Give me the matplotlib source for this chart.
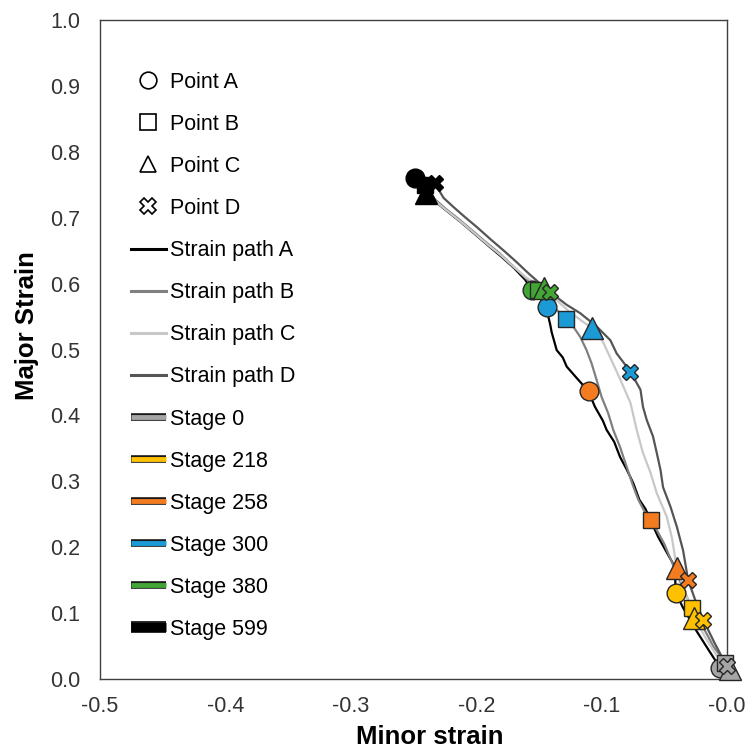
import numpy as np
import matplotlib
matplotlib.use('Agg')
import matplotlib.pyplot as plt
import matplotlib.patheffects as pe
from matplotlib.lines import Line2D
from matplotlib.ticker import FormatStrFormatter

plt.rcParams['font.family'] = ['Liberation Sans', 'DejaVu Sans']
plt.rcParams['axes.unicode_minus'] = False

# strain paths (minor, major)
path_a_x = [-0.249, -0.240, -0.231, -0.222, -0.212, -0.201, -0.190, -0.180, -0.170, -0.161,
            -0.1555, -0.150, -0.1435, -0.1425, -0.1410, -0.1398, -0.1358, -0.1310, -0.1278,
            -0.1186, -0.1106, -0.1053, -0.0990, -0.0960, -0.0900, -0.0853, -0.0800, -0.0747,
            -0.0699, -0.0650, -0.061, -0.055, -0.048, -0.0415, -0.0410, -0.035, -0.025, -0.015,
            -0.0055]
path_a_y = [0.760, 0.738, 0.722, 0.708, 0.693, 0.675, 0.657, 0.641, 0.624, 0.606,
            0.590, 0.580, 0.565, 0.550, 0.538, 0.526, 0.499, 0.488, 0.474,
            0.454, 0.437, 0.413, 0.392, 0.378, 0.360, 0.337, 0.318, 0.297,
            0.272, 0.258, 0.241, 0.216, 0.192, 0.170, 0.131, 0.108, 0.075, 0.045,
            0.017]

path_b_x = [-0.241, -0.233, -0.224, -0.214, -0.204, -0.193, -0.182, -0.172, -0.162, -0.151,
            -0.145, -0.137, -0.128, -0.122, -0.117, -0.112, -0.108, -0.104, -0.100, -0.0947,
            -0.0907, -0.0853, -0.080, -0.0747, -0.0707, -0.066, -0.061, -0.056, -0.050, -0.045,
            -0.040, -0.035, -0.028, -0.020, -0.011, -0.0015]
path_b_y = [0.750, 0.728, 0.713, 0.698, 0.682, 0.664, 0.647, 0.629, 0.611, 0.590,
            0.575, 0.562, 0.546, 0.533, 0.519, 0.499, 0.479, 0.454, 0.428, 0.403,
            0.378, 0.352, 0.322, 0.292, 0.272, 0.255, 0.241, 0.226, 0.205, 0.182,
            0.160, 0.137, 0.108, 0.082, 0.050, 0.025]

path_c_x = [-0.240, -0.232, -0.223, -0.213, -0.203, -0.192, -0.181, -0.171, -0.160, -0.146,
            -0.136, -0.126, -0.117, -0.108, -0.103, -0.099, -0.091, -0.085, -0.077, -0.072,
            -0.067, -0.061, -0.056, -0.048, -0.044, -0.040, -0.033, -0.026, -0.017, -0.008,
            0.002]
path_c_y = [0.737, 0.724, 0.710, 0.695, 0.679, 0.661, 0.644, 0.627, 0.609, 0.593,
            0.575, 0.558, 0.545, 0.533, 0.525, 0.512, 0.479, 0.454, 0.419, 0.378,
            0.343, 0.313, 0.282, 0.246, 0.215, 0.168, 0.130, 0.093, 0.062, 0.035,
            0.015]

path_d_x = [-0.233, -0.226, -0.218, -0.209, -0.199, -0.189, -0.178, -0.168, -0.158, -0.149,
            -0.141, -0.128, -0.117, -0.104, -0.093, -0.088, -0.080, -0.077, -0.069, -0.067,
            -0.064, -0.059, -0.056, -0.053, -0.051, -0.045, -0.040, -0.035, -0.031, -0.025,
            -0.019, -0.010, 0.000]
path_d_y = [0.752, 0.730, 0.716, 0.701, 0.685, 0.668, 0.650, 0.633, 0.615, 0.600,
            0.587, 0.568, 0.555, 0.535, 0.514, 0.494, 0.474, 0.466, 0.439, 0.413,
            0.393, 0.368, 0.343, 0.317, 0.291, 0.261, 0.231, 0.195, 0.150, 0.118,
            0.090, 0.055, 0.019]

# points at each stage
stages = ['Stage 0', 'Stage 218', 'Stage 258', 'Stage 300', 'Stage 380', 'Stage 599']
stage_colors = ['#a5a5a5', '#ffc000', '#f47c20', '#1b9ad6', '#43a535', '#000000']
point_a_x = [-0.0055, -0.041, -0.110, -0.1435, -0.1555, -0.249]
point_a_y = [0.017, 0.131, 0.437, 0.565, 0.590, 0.760]
point_b_x = [-0.0015, -0.028, -0.061, -0.128, -0.151, -0.241]
point_b_y = [0.025, 0.108, 0.241, 0.546, 0.590, 0.750]
point_c_x = [0.002, -0.026, -0.040, -0.108, -0.146, -0.240]
point_c_y = [0.015, 0.093, 0.168, 0.533, 0.593, 0.737]
point_d_x = [0.000, -0.019, -0.031, -0.077, -0.141, -0.233]
point_d_y = [0.019, 0.090, 0.150, 0.466, 0.587, 0.752]

fig = plt.figure(figsize=(7.45, 7.53), dpi=100)
ax = fig.add_axes([100 / 745, 74 / 753, 627 / 745, 659 / 753])

paths = [(path_a_x, path_a_y, '#000000'), (path_b_x, path_b_y, '#808080'),
         (path_c_x, path_c_y, '#c8c8c8'), (path_d_x, path_d_y, '#555555')]
for px, py, c in paths:
    ax.plot(px, py, color=c, lw=1.6, clip_on=False, zorder=2)

markers = [('o', 13.5, point_a_x, point_a_y), ('s', 12, point_b_x, point_b_y),
           ('^', 16, point_c_x, point_c_y), ('X', 12, point_d_x, point_d_y)]
for i, col in enumerate(stage_colors):
    edge = '#000000' if col == '#000000' else '#262626'
    for m, ms, mx, my in markers:
        ax.plot(mx[i], my[i], marker=m, ms=ms, mfc=col, mec=edge, mew=1.0,
                ls='none', clip_on=False, zorder=3 + i)

ax.set_xlim(-0.5, 0.0)
ax.set_ylim(0.0, 1.0)
ax.set_xticks(np.arange(-0.5, 0.01, 0.1))
ax.set_yticks(np.arange(0.0, 1.01, 0.1))
ax.xaxis.set_major_formatter(FormatStrFormatter('%.1f'))
ax.yaxis.set_major_formatter(FormatStrFormatter('%.1f'))
ax.tick_params(length=0, labelsize=15.5, labelcolor='#333333')
ax.tick_params(axis='y', pad=14)
ax.tick_params(axis='x', pad=12)
for s in ax.spines.values():
    s.set_color('#404040')
    s.set_linewidth(1.0)

ax.set_xlabel('Minor strain', fontsize=18.5, fontweight='bold')
ax.set_ylabel('Major Strain', fontsize=18.5, fontweight='bold')
ax.xaxis.set_label_coords(0.5255, -0.070)
ax.yaxis.set_label_coords(-0.097, 0.536)

# legend
handles = []
labels = []
for m, lab in zip(['o', 's', '^', 'X'], ['Point A', 'Point B', 'Point C', 'Point D']):
    handles.append(Line2D([], [], marker=m, ls='none', mfc='white', mec='#000000',
                          ms=12 if m != '^' else 11, mew=1.2))
    labels.append(lab)
for (px, py, c), lab in zip(paths, ['Strain path A', 'Strain path B', 'Strain path C', 'Strain path D']):
    handles.append(Line2D([], [], color=c, lw=2.2))
    labels.append(lab)
for col, lab in zip(stage_colors, stages):
    lw = 6.5 if col == '#000000' else 3.5
    handles.append(Line2D([], [], color=col, lw=lw, solid_capstyle='butt',
                          path_effects=[pe.Stroke(linewidth=lw + 2, foreground='#1a1a1a'),
                                        pe.Normal()]))
    labels.append(lab)

ax.legend(handles, labels, loc='upper left', bbox_to_anchor=(0.049, 0.9215),
          frameon=False, fontsize=15.5, handlelength=1.63, handletextpad=0.2,
          labelspacing=0.98, borderpad=0, borderaxespad=0)

fig.savefig('out.png', dpi=100)
